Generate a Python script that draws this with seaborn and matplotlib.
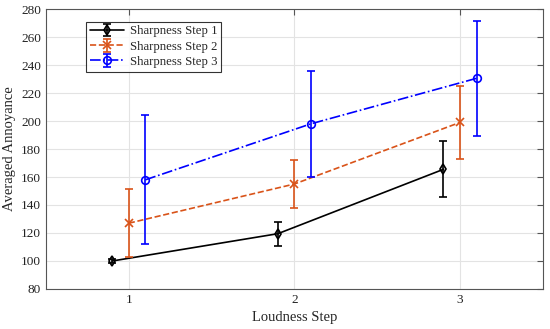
import numpy as np
import pandas as pd
import seaborn as sns
import matplotlib
matplotlib.use("Agg")
import matplotlib.pyplot as plt

# data
loudness = [1, 2, 3]
series = ["Sharpness Step 1", "Sharpness Step 2", "Sharpness Step 3"]
mean_s1 = [100.0, 119.5, 165.5]
err_s1 = [1.5, 8.5, 20.0]
mean_s2 = [127.0, 155.0, 199.0]
err_s2 = [24.5, 17.5, 26.0]
mean_s3 = [158.0, 198.0, 230.5]
err_s3 = [46.0, 38.0, 41.0]
dodge = [-0.1, 0.0, 0.1]

means = [mean_s1, mean_s2, mean_s3]
errs = [err_s1, err_s2, err_s3]
colors = ["black", "#D95319", "#0000FF"]
markers = ["d", "x", "o"]
dashes = ["-", "--", "-."]

rows = []
for name, m, e, d in zip(series, means, errs, dodge):
    for l, mv, ev in zip(loudness, m, e):
        rows.append({"series": name, "x": l + d, "mean": mv, "err": ev})
df = pd.DataFrame(rows)

sns.set_style("whitegrid")
plt.rcParams["font.family"] = ["Liberation Serif", "DejaVu Serif"]

fig = plt.figure(figsize=(5.5, 3.29), dpi=100)
ax = fig.add_axes([0.0836, 0.1216, 0.9034, 0.851])

handles = []
for name, c, mk, ls in zip(series, colors, markers, dashes):
    sub = df[df["series"] == name]
    sns.lineplot(data=sub, x="x", y="mean", ax=ax, color=c, lw=1.2,
                 linestyle=ls, marker=mk, markersize=5.5,
                 markerfacecolor="none", markeredgecolor=c,
                 markeredgewidth=1.2, legend=False, estimator=None)
    line = ax.lines[-1]
    eb = ax.errorbar(sub["x"], sub["mean"], yerr=sub["err"], fmt="none",
                     ecolor=c, elinewidth=1.2, capsize=3, capthick=1.2)
    handles.append((line, eb))

ax.set_xlim(0.5, 3.5)
ax.set_ylim(80, 280)
ax.set_xticks(loudness)
ax.set_yticks(np.arange(80, 281, 20))
ax.grid(True, color="#e3e3e3", lw=0.8)
for s in ax.spines.values():
    s.set_visible(True)
    s.set_color("#555555")
    s.set_linewidth(0.8)
ax.tick_params(direction="in", length=4, color="#555555", labelsize=9.5,
               top=True, right=True, labelcolor="#222222")
ax.set_xlabel("Loudness Step", fontsize=10.5)
ax.set_ylabel("Averaged Annoyance", fontsize=10.5)

leg = ax.legend(handles, series, loc="upper left",
                bbox_to_anchor=(0.068, 0.978), fontsize=9.2,
                frameon=True, fancybox=False, handlelength=2.7,
                borderpad=0.3, labelspacing=0.25, handletextpad=0.4)
leg.get_frame().set_edgecolor("black")
leg.get_frame().set_linewidth(0.8)

fig.savefig("out.png", dpi=100)
